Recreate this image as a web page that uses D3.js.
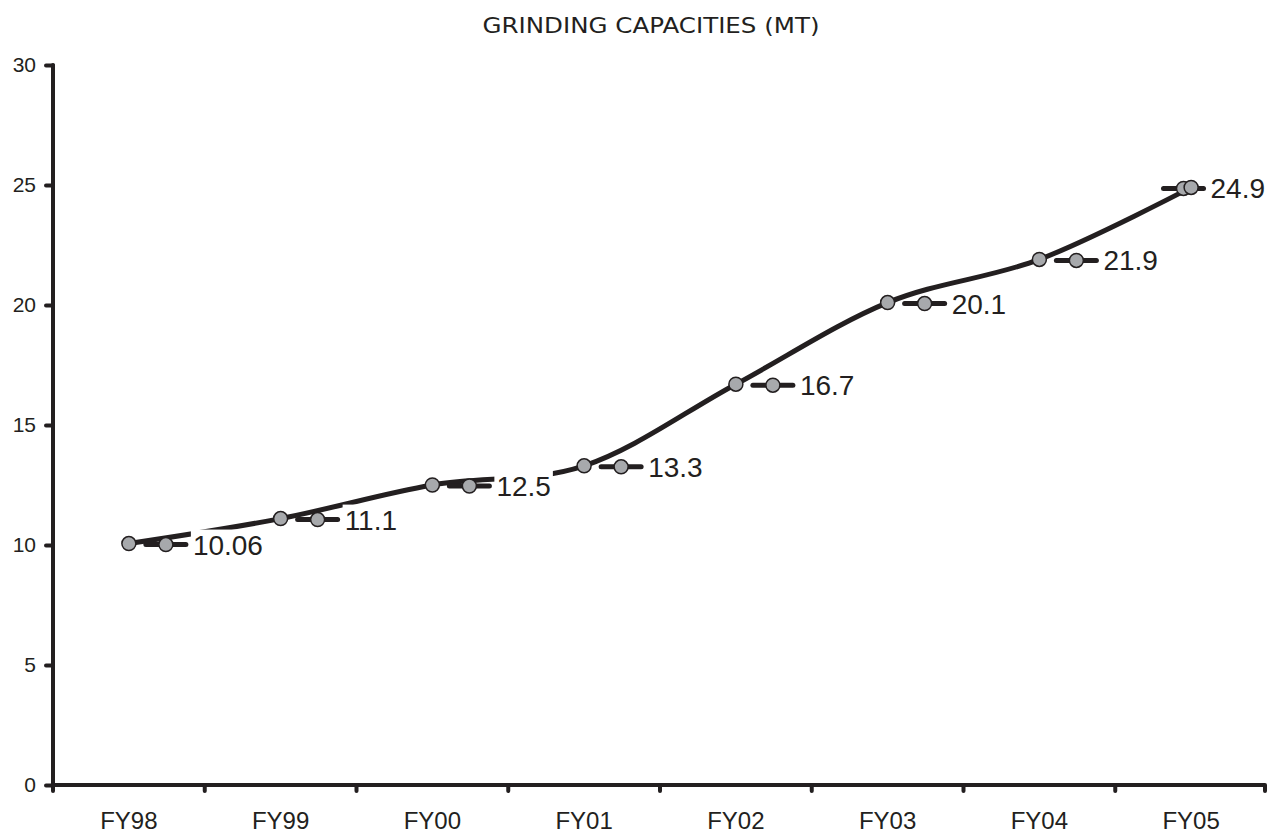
<!DOCTYPE html>
<meta charset="utf-8">
<script src="https://d3js.org/d3.v7.min.js"></script>
<style>
  body { margin: 0; background: #fff; }
</style>
<div id="chart"></div>
<script>

// data
var years = ["FY98", "FY99", "FY00", "FY01", "FY02", "FY03", "FY04", "FY05"];
var capacity = [10.06, 11.1, 12.5, 13.3, 16.7, 20.1, 21.9, 24.9];
var valueLabels = ["10.06", "11.1", "12.5", "13.3", "16.7", "20.1", "21.9", "24.9"];
var yTicks = [0, 5, 10, 15, 20, 25, 30];

var W = 1267, H = 835;
var margin = {top: 65, right: 0, bottom: 50, left: 53};
var ink = "#231f20", grey = "#a7a9ac";

var svg = d3.select("#chart").append("svg")
  .attr("width", W).attr("height", H);

var x = d3.scaleBand().domain(years).range([margin.left, W - margin.right]);
var y = d3.scaleLinear().domain([0, 30]).range([H - margin.bottom, margin.top]);

// title
svg.append("text")
  .attr("x", 651).attr("y", 33)
  .attr("text-anchor", "middle")
  .attr("font-family", "DejaVu Sans")
  .attr("font-size", 21)
  .attr("textLength", 337)
  .attr("lengthAdjust", "spacingAndGlyphs")
  .attr("fill", ink)
  .text("GRINDING CAPACITIES (MT)");

// y axis
var yAxis = svg.append("g")
  .attr("transform", "translate(" + margin.left + ",0)")
  .call(d3.axisLeft(y).tickValues(yTicks).tickSize(7).tickPadding(10));
yAxis.select(".domain").remove();
yAxis.selectAll(".tick line").attr("stroke", ink).attr("stroke-width", 4).attr("stroke-linecap", "round");
yAxis.selectAll("text").attr("font-family", "Liberation Sans").attr("font-size", 21).attr("fill", ink);
svg.append("line")
  .attr("x1", margin.left).attr("x2", margin.left)
  .attr("y1", y(30)).attr("y2", y(0))
  .attr("stroke", ink).attr("stroke-width", 4).attr("stroke-linecap", "round");

// x axis
var xAxis = svg.append("g")
  .attr("transform", "translate(0," + y(0) + ")")
  .call(d3.axisBottom(x).tickSize(0).tickPadding(27));
xAxis.select(".domain").remove();
xAxis.selectAll("text").attr("font-family", "Liberation Sans").attr("font-size", 24).attr("fill", ink);
svg.append("line")
  .attr("x1", margin.left).attr("x2", W - 2)
  .attr("y1", y(0)).attr("y2", y(0))
  .attr("stroke", ink).attr("stroke-width", 4);
// ticks between categories
var bounds = years.map(function(d) { return x(d); }).concat([W - 2]);
svg.selectAll(".xtick").data(bounds).enter().append("line")
  .attr("x1", function(d) { return d; }).attr("x2", function(d) { return d; })
  .attr("y1", y(0)).attr("y2", y(0) + 6)
  .attr("stroke", ink).attr("stroke-width", 4).attr("stroke-linecap", "round");

var cx = function(d, i) { return x(years[i]) + x.bandwidth() / 2; };
var pts = capacity.map(function(v, i) { return [cx(v, i), y(v)]; });

// smoothed line
var line = d3.line().curve(d3.curveCardinal.tension(0));
svg.append("path")
  .attr("d", line(pts))
  .attr("fill", "none")
  .attr("stroke", ink)
  .attr("stroke-width", 5);

// value labels with little legend key
var labels = svg.selectAll(".lab").data(capacity).enter().append("g");

labels.each(function(d, i) {
  var g = d3.select(this);
  var t = g.append("text")
    .attr("x", 27).attr("y", 10)
    .attr("font-family", "Liberation Sans")
    .attr("font-size", 28)
    .attr("fill", ink)
    .text(valueLabels[i]);
  var bb = t.node().getBBox();
  // keep label inside the plot on the right
  var mx = Math.min(cx(d, i) + 37, W - 2 - bb.x - bb.width);
  g.attr("transform", "translate(" + mx + "," + (y(d) + 1) + ")");
  g.insert("rect", "text")
    .attr("x", bb.x - 2).attr("y", bb.y)
    .attr("width", bb.width + 4).attr("height", bb.height)
    .attr("fill", "#fff");
  g.insert("line", "text")
    .attr("x1", -20).attr("x2", 20)
    .attr("stroke", ink).attr("stroke-width", 5).attr("stroke-linecap", "round");
  g.insert("circle", "text")
    .attr("r", 7)
    .attr("fill", grey).attr("stroke", ink).attr("stroke-width", 1.5);
});

// data points
svg.selectAll(".pt").data(pts).enter().append("circle")
  .attr("cx", function(d) { return d[0]; })
  .attr("cy", function(d) { return d[1]; })
  .attr("r", 7)
  .attr("fill", grey).attr("stroke", ink).attr("stroke-width", 1.5);

</script>
